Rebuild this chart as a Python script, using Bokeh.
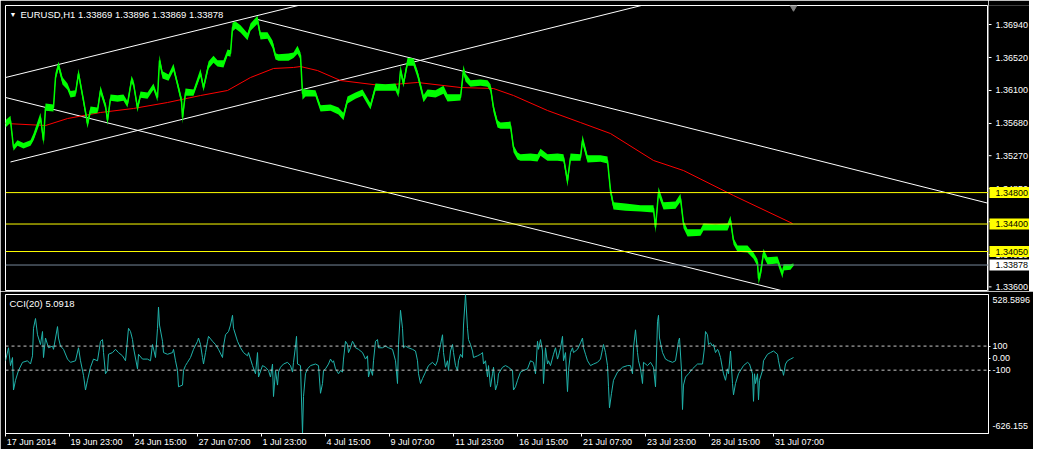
from bokeh.plotting import figure
from bokeh.models import Range1d, FixedTicker, Span, Label
from bokeh.layouts import column, row
from bokeh.core.properties import value
from bokeh.embed import file_html
from bokeh.resources import INLINE

# ---------------- data ----------------
symbol_title = "EURUSD,H1  1.33869 1.33896 1.33869 1.33878"
cci_title = "CCI(20) 5.0918"

time_tick_bars = [0, 64, 128, 192, 256, 320, 384, 448, 512, 576, 640, 704, 768]
time_tick_labels = ["17 Jun 2014", "19 Jun 23:00", "24 Jun 15:00", "27 Jun 07:00",
                    "1 Jul 23:00", "4 Jul 15:00", "9 Jul 07:00", "11 Jul 23:00",
                    "16 Jul 15:00", "21 Jul 07:00", "23 Jul 23:00", "28 Jul 15:00",
                    "31 Jul 07:00"]

price_ticks = [1.36940, 1.36520, 1.36100, 1.35680, 1.35270, 1.34850, 1.34430, 1.34010,
               1.33600]
price_tick_labels = ["1.36940", "1.36520", "1.36100", "1.35680", "1.35270", "1.34850",
                     "1.34430", "1.34010", "1.33600"]
price_min, price_max = 1.33541, 1.37182

price_bar = [0, 5, 8, 12, 18, 25, 28, 35, 38, 40, 48, 50, 53, 57, 62, 65, 70, 73, 78, 82,
             85, 92, 95, 100, 102, 105, 112, 118, 122, 126, 128, 132, 135, 142, 148, 152,
             154, 157, 163, 168, 172, 176, 177, 180, 188, 195, 198, 203, 208, 212, 218,
             222, 225, 227, 230, 235, 242, 245, 252, 255, 262, 267, 270, 273, 283, 288,
             292, 295, 297, 300, 310, 315, 325, 333, 338, 342, 350, 357, 365, 370, 380,
             390, 393, 395, 398, 402, 408, 412, 418, 422, 430, 438, 442, 455, 458, 460,
             465, 475, 482, 485, 488, 492, 495, 505, 508, 512, 515, 525, 532, 535, 542,
             552, 558, 562, 565, 575, 577, 582, 595, 602, 604, 605, 608, 620, 635, 648,
             650, 653, 658, 670, 675, 678, 682, 695, 698, 710, 722, 725, 728, 732, 742,
             748, 752, 753, 755, 758, 762, 772, 777, 778, 785, 788]
price_close = [1.35680, 1.35718, 1.35374, 1.35425, 1.35400, 1.35425, 1.35502, 1.35756,
               1.35463, 1.35883, 1.35883, 1.36265, 1.36418, 1.36227, 1.36138, 1.36062,
               1.36062, 1.36316, 1.35973, 1.35680, 1.35845, 1.35845, 1.36100, 1.35909,
               1.35718, 1.35998, 1.35998, 1.35998, 1.35934, 1.36227, 1.36189, 1.35883,
               1.36036, 1.36036, 1.36138, 1.36011, 1.36482, 1.36304, 1.36265, 1.36380,
               1.36189, 1.35973, 1.35756, 1.36074, 1.36074, 1.36316, 1.36138, 1.36418,
               1.36482, 1.36444, 1.36444, 1.36571, 1.36571, 1.36902, 1.36927, 1.36889,
               1.36800, 1.36902, 1.36991, 1.36800, 1.36800, 1.36698, 1.36545, 1.36520,
               1.36520, 1.36545, 1.36609, 1.36545, 1.36062, 1.36062, 1.36062, 1.35883,
               1.35883, 1.35845, 1.35782, 1.35973, 1.36036, 1.36062, 1.35909, 1.36138,
               1.36138, 1.36138, 1.36062, 1.36354, 1.36189, 1.36456, 1.36456, 1.36316,
               1.36011, 1.36062, 1.36062, 1.36100, 1.36011, 1.36011, 1.36354, 1.36265,
               1.36189, 1.36189, 1.36189, 1.36138, 1.35883, 1.35680, 1.35654, 1.35654,
               1.35374, 1.35272, 1.35247, 1.35247, 1.35247, 1.35298, 1.35247, 1.35247,
               1.35247, 1.34954, 1.35247, 1.35247, 1.35463, 1.35234, 1.35234, 1.35209,
               1.34954, 1.34827, 1.34636, 1.34610, 1.34598, 1.34598, 1.34356, 1.34801,
               1.34636, 1.34636, 1.34725, 1.34407, 1.34292, 1.34292, 1.34356, 1.34356,
               1.34356, 1.34445, 1.34190, 1.34088, 1.34088, 1.33999, 1.33910, 1.33707,
               1.33770, 1.34025, 1.33936, 1.33936, 1.33770, 1.33847, 1.33847, 1.33878]
# bar range around the close (pips above / below)
price_up_pips = [4, 6, 3, 4, 3, 4, 5, 6, 3, 5,
                 4, 6, 5, 4, 5, 3, 4, 6, 3, 3,
                 5, 4, 6, 3, 4, 5, 4, 5, 3, 6,
                 4, 3, 5, 4, 5, 3, 7, 4, 4, 6,
                 3, 4, 3, 5, 4, 6, 3, 5, 6, 4,
                 4, 5, 4, 6, 5, 4, 3, 5, 6, 4,
                 4, 4, 3, 4, 5, 4, 6, 4, 6, 5,
                 4, 3, 4, 4, 3, 5, 4, 5, 3, 5,
                 4, 5, 3, 7, 4, 6, 5, 4, 3, 5,
                 4, 6, 4, 4, 7, 5, 4, 5, 4, 4,
                 3, 4, 4, 5, 3, 4, 4, 5, 4, 6,
                 4, 5, 4, 3, 5, 4, 7, 4, 4, 5,
                 3, 4, 4, 5, 4, 4, 3, 7, 4, 5,
                 6, 3, 4, 4, 5, 4, 5, 6, 3, 4,
                 4, 4, 4, 4, 5, 6, 4, 5, 3, 4,
                 4, 2]
price_down_pips = [5, 3, 4, 3, 4, 3, 4, 5, 6, 4,
                   5, 3, 4, 5, 3, 5, 4, 3, 5, 6,
                   4, 3, 4, 5, 6, 3, 4, 3, 5, 3,
                   4, 6, 3, 4, 3, 5, 4, 5, 4, 3,
                   5, 5, 8, 4, 4, 3, 5, 4, 3, 4,
                   5, 3, 4, 5, 4, 5, 6, 4, 4, 5,
                   4, 6, 5, 4, 4, 3, 4, 5, 8, 4,
                   4, 5, 4, 5, 6, 4, 4, 3, 5, 4,
                   4, 4, 5, 4, 5, 4, 4, 5, 6, 4,
                   5, 4, 5, 4, 4, 5, 4, 3, 4, 5,
                   6, 5, 4, 4, 6, 5, 4, 4, 5, 3,
                   4, 4, 5, 8, 4, 4, 4, 5, 4, 4,
                   6, 5, 5, 4, 4, 5, 7, 4, 5, 4,
                   4, 6, 5, 4, 4, 4, 4, 3, 5, 4,
                   5, 4, 5, 7, 5, 4, 5, 4, 6, 4,
                   3, 1]

ma_bar = [0, 40, 62, 95, 128, 162, 195, 222, 245, 268, 288, 295, 312, 335, 375, 412, 455,
          488, 508, 542, 575, 605, 648, 678, 728, 787]
ma_val = [1.35680, 1.35654, 1.35743, 1.35820, 1.35871, 1.35947, 1.36036, 1.36100, 1.36265,
          1.36380, 1.36393, 1.36405, 1.36354, 1.36227, 1.36164, 1.36202, 1.36138, 1.36125,
          1.36036, 1.35845, 1.35692, 1.35552, 1.35209, 1.35081, 1.34763, 1.34407]

# trend lines: (bar0, price0, bar1, price1)
trend_lines = [
    (0, 1.36265, 300, 1.37205),
    (5, 1.35190, 660, 1.37258),
    (252, 1.37004, 1000, 1.34609),
    (0, 1.36011, 800, 1.33477),
]
level_prices = [1.34800, 1.34400, 1.34050]
level_labels = ["1.34800", "1.34400", "1.34050"]
bid_price = 1.33878
bid_label = "1.33878"

cci_min, cci_max = -626.155, 528.5896
cci_levels = [100, -100]
cci_level_labels = {100: "100", 0: "0.00", -100: "-100"}
cci_max_label, cci_min_label = "528.5896", "-626.155"
cci_bar = [0, 3, 5, 7, 8, 10, 13, 17, 22, 25, 27, 28, 30, 32, 35, 37, 38, 40, 43, 47, 48,
           50, 52, 53, 55, 58, 62, 65, 70, 73, 75, 78, 80, 82, 85, 88, 92, 95, 97, 98, 100,
           102, 103, 107, 110, 113, 117, 120, 123, 125, 127, 128, 132, 133, 137, 142, 145,
           147, 150, 152, 153, 154, 157, 158, 162, 167, 168, 170, 172, 173, 177, 178, 180,
           182, 185, 188, 192, 193, 195, 197, 198, 200, 202, 203, 207, 210, 213, 217, 218,
           220, 223, 225, 227, 228, 232, 235, 238, 242, 243, 245, 247, 250, 252, 253, 257,
           260, 263, 265, 267, 268, 270, 272, 273, 275, 278, 282, 285, 287, 288, 290, 291,
           292, 295, 297, 298, 300, 302, 305, 310, 313, 315, 317, 318, 320, 323, 325, 327,
           328, 330, 333, 335, 337, 338, 340, 342, 343, 345, 347, 348, 350, 353, 357, 360,
           362, 363, 365, 367, 368, 370, 372, 373, 377, 380, 383, 387, 390, 392, 393, 395,
           397, 398, 400, 403, 407, 410, 412, 413, 415, 417, 420, 423, 427, 430, 432, 433,
           435, 437, 438, 440, 442, 443, 445, 447, 448, 450, 452, 453, 455, 457, 458, 460,
           462, 463, 465, 467, 468, 472, 475, 477, 478, 480, 482, 483, 485, 487, 488, 490,
           492, 493, 497, 500, 503, 507, 508, 510, 512, 515, 518, 522, 525, 528, 530, 532,
           533, 535, 537, 538, 540, 542, 543, 545, 548, 550, 552, 553, 555, 557, 558, 560,
           562, 563, 565, 567, 568, 572, 575, 577, 578, 580, 582, 585, 588, 592, 595, 597,
           598, 600, 602, 603, 604, 606, 608, 612, 617, 622, 625, 627, 628, 630, 632, 633,
           635, 637, 638, 642, 645, 648, 650, 652, 653, 654, 657, 660, 663, 667, 670, 673,
           674, 676, 677, 678, 680, 683, 687, 692, 697, 699, 700, 702, 703, 705, 707, 708,
           710, 712, 713, 715, 717, 718, 720, 722, 723, 725, 727, 728, 730, 733, 738, 742,
           744, 747, 748, 749, 750, 752, 753, 754, 757, 758, 762, 765, 768, 772, 773, 775,
           777, 778, 780, 782, 785, 788]
cci_val = [-22, 86, -62, 5, -265, -184, -103, -35, -22, -49, 19, 248, 329, 194, 113, 221, 5,
           167, 86, 100, 73, 167, 262, 167, 100, 73, -8, -35, -22, 86, -22, -143, -265, -184,
           -76, -8, -22, 140, 154, 46, -130, -103, 32, 46, 73, 46, 19, -22, 248, 221, 154,
           86, -89, 32, -8, -8, -22, 113, 5, 248, 424, 275, 140, 46, 32, 46, 73, -22, -103,
           -238, -224, -103, -62, -35, 5, 73, 140, 167, 113, 5, -49, 46, 140, 181, 140, 113,
           73, 5, 100, 194, 221, 275, 356, 248, 140, 86, 46, 19, 46, -8, -62, -130, 46, -157,
           -62, -76, -103, -157, -49, -319, -103, -224, -116, -76, -49, -35, -62, -116, -35,
           100, 181, -49, -62, -626.155, -319, -130, -89, -62, -49, -62, -292, -211, -103,
           -89, -49, -8, -35, -22, -89, -130, -103, -116, -8, 140, 113, 46, 86, 140, 127, 86,
           73, 46, -8, 19, -157, -89, -143, -22, 140, 154, 86, 86, 100, 86, 73, -22, -211,
           113, 397, 248, 86, 100, 86, 73, 59, -22, -130, -211, -170, -116, -62, -35, -62,
           -22, 32, 113, 194, 46, -76, -22, -103, 59, 113, 46, -62, -103, -22, 32, 5, 275,
           528.5896, 248, 154, 113, 59, 5, 19, 32, 46, -49, -22, -157, -62, -238, -130, -76,
           -265, -211, -130, -76, -62, -76, -103, -265, -238, -184, -116, -103, -89, -22, -35,
           -130, 140, 73, 154, 59, -211, 86, -49, -22, -62, 32, 86, -8, 19, 86, 181, -22, 46,
           -278, -103, 46, 86, 46, 73, 127, 167, 86, 32, -22, -62, -49, -35, -8, 73, 113, 46,
           -62, -238, -413, -292, -184, -116, -76, -62, -62, -130, 86, 235, 46, -22, -89,
           -211, -35, -62, -35, -76, -238, 302, 356, 167, 46, -8, -22, -35, -22, 140, 167,
           -103, -427, -224, -157, -130, -89, -49, -49, 86, 221, 194, 113, 127, 100, 113, 46,
           73, 59, 5, -89, -130, -184, -89, -130, 59, -211, -305, -211, -130, -62, -35, -49,
           -130, -359, -130, -211, -130, -346, -184, -103, -22, 32, 46, 59, 32, -22, -103,
           -103, -143, -49, -22, -8, 5.0918]

# ---------------- styling / layout ----------------
FONT = "Liberation Sans"
FS = "9px"
FRAME_W = 983          # one pixel per hourly bar
X_END = FRAME_W
AXIS_W = 41
MAIN_H = 286
CCI_H = 139
PIP = 0.0001
CHAR_W = {" ": 2.5, ":": 2.5, "J": 4.5, "u": 5.0, "n": 5.0, "l": 2.0}


def text_w(s):
    return sum(CHAR_W.get(ch, 5.0) for ch in s)


xr = Range1d(0, X_END)
base = dict(output_backend="svg", toolbar_location=None, background_fill_color="black",
            border_fill_color="black", min_border=0)

# main price panel
p = figure(x_range=xr, y_range=Range1d(price_min, price_max), frame_width=FRAME_W,
           frame_height=MAIN_H, x_axis_location=None, y_axis_location=None,
           outline_line_color="white", min_border_left=5, min_border_top=5, **base)
p.grid.visible = False

# price scale panel (right)
pa = figure(x_range=Range1d(0, AXIS_W), y_range=p.y_range, frame_width=AXIS_W,
            frame_height=MAIN_H, x_axis_location=None, y_axis_location=None,
            outline_line_color=None, min_border_top=5, **base)
pa.grid.visible = False

# CCI panel
c = figure(x_range=xr, y_range=Range1d(cci_min, cci_max), frame_width=FRAME_W,
           frame_height=CCI_H, x_axis_location="below", y_axis_location="right",
           outline_line_color="white", min_border_left=5, min_border_top=3,
           min_border_right=AXIS_W, min_border_bottom=13, **base)
c.grid.visible = False

# ---- main panel content ----
for lv in level_prices:
    p.add_layout(Span(location=lv, dimension="width", line_color="#ffff00", line_width=1))
p.add_layout(Span(location=bid_price, dimension="width", line_color="#778899", line_width=1))

for b0, v0, b1, v1 in trend_lines:
    p.line([b0, b1], [v0, v1], line_color="white", line_width=1)

p.line(ma_bar, ma_val, line_color="#ff0000", line_width=1)

price_high = [cl + u * PIP for cl, u in zip(price_close, price_up_pips)]
price_low = [cl - d * PIP for cl, d in zip(price_close, price_down_pips)]
p.varea(x=price_bar, y1=price_low, y2=price_high, fill_color="#00ff00")
p.line(price_bar, price_close, line_color="#00ff00", line_width=1.5)

p.scatter([price_bar[-1]], [price_max], marker="inverted_triangle", size=10,
          fill_color="#808080", line_color="#808080")

p.add_layout(Label(x=0, y=price_max, x_offset=4, y_offset=-5, text="▼",
                   text_color="white", text_font=FONT, text_font_size="7px",
                   text_baseline="top", text_align="left"))
p.add_layout(Label(x=0, y=price_max, x_offset=15, y_offset=-3, text=symbol_title,
                   text_color="white", text_font=FONT, text_font_size="9.5px",
                   text_baseline="top", text_align="left"))

# ---- price scale ----
n_t = len(price_ticks)
pa.segment(x0=[0] * n_t, y0=price_ticks, x1=[3] * n_t, y1=price_ticks,
           line_color="white", line_width=1)
pa.text(x=[7] * n_t, y=price_ticks, text=price_tick_labels,
        text_color="white", text_font=value(FONT), text_font_size=value(FS),
        text_baseline="middle", text_align="left")
pa.rect(x=[21] * len(level_prices), y=level_prices, width=40, height=11,
        height_units="screen", fill_color="#ffff00", line_color=None)
pa.rect(x=[21], y=[bid_price], width=40, height=11, height_units="screen",
        fill_color="white", line_color=None)
pa.text(x=[7] * (len(level_prices) + 1), y=level_prices + [bid_price],
        text=level_labels + [bid_label], text_color="black", text_font=value(FONT),
        text_font_size=value(FS), text_baseline="middle", text_align="left")

# ---- CCI panel content ----
for lv in cci_levels:
    c.add_layout(Span(location=lv, dimension="width", line_color="#c8c8c8",
                      line_width=1, line_dash="3 3"))
c.line(cci_bar, cci_val, line_color="#20b2aa", line_width=1)

c.add_layout(Label(x=0, y=cci_max, x_offset=4, y_offset=-3, text=cci_title,
                   text_color="white", text_font=FONT, text_font_size="9.5px",
                   text_baseline="top", text_align="left"))

# CCI right scale: labels on major ticks (extremes shown just inside the frame),
# tick marks drawn as minor ticks at the real levels
units_per_px = (cci_max - cci_min) / CCI_H
top_pos = round(cci_max - 6 * units_per_px)
bot_pos = round(cci_min + 8 * units_per_px)
ya = c.yaxis[0]
ya.ticker = FixedTicker(ticks=[top_pos] + list(cci_level_labels) + [bot_pos],
                        minor_ticks=list(cci_level_labels))
ya.major_label_overrides = {top_pos: cci_max_label, bot_pos: cci_min_label,
                            **cci_level_labels}
ya.axis_line_color = "white"
ya.major_tick_line_color = None
ya.major_tick_out = 2
ya.major_tick_in = 0
ya.minor_tick_line_color = "white"
ya.minor_tick_out = 2
ya.minor_tick_in = 0
ya.major_label_standoff = 2
ya.major_label_text_color = "white"
ya.major_label_text_font = FONT
ya.major_label_text_font_size = FS

# time axis: labels left-aligned after each tick (label centres on major ticks,
# real tick marks drawn as minor ticks)
label_pos = [round(b + 1 + text_w(t) / 2) for b, t in zip(time_tick_bars, time_tick_labels)]
xa = c.xaxis[0]
xa.ticker = FixedTicker(ticks=label_pos, minor_ticks=time_tick_bars)
xa.major_label_overrides = dict(zip(label_pos, time_tick_labels))
xa.axis_line_color = "white"
xa.major_tick_line_color = None
xa.major_tick_out = 3
xa.major_tick_in = 0
xa.minor_tick_line_color = "white"
xa.minor_tick_out = 3
xa.minor_tick_in = 0
xa.major_label_standoff = 0
xa.major_label_text_color = "white"
xa.major_label_text_font = FONT
xa.major_label_text_font_size = FS

layout = column(row(p, pa, spacing=0), c, spacing=0)
open("out.html", "w").write(file_html(layout, INLINE))
